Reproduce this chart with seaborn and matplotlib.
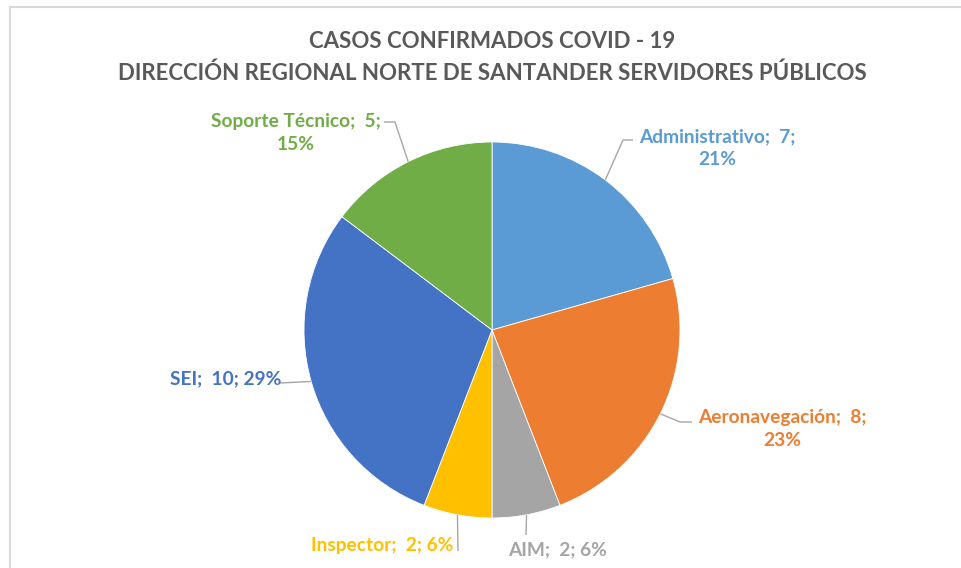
import numpy as np
import matplotlib
matplotlib.use("Agg")
import matplotlib.pyplot as plt
import seaborn as sns
from matplotlib.lines import Line2D

sns.set_theme(style="white")
plt.rcParams['font.family'] = ['Lato', 'DejaVu Sans']

# data
categories = ["Administrativo", "Aeronavegación", "AIM", "Inspector", "SEI", "Soporte Técnico"]
cases = [7, 8, 2, 2, 10, 5]
pct_labels = [21, 23, 6, 6, 29, 15]   # as shown on the chart
colors = ["#5B9BD5", "#ED7D31", "#A5A5A5", "#FFC000", "#4472C4", "#70AD47"]
title_lines = ["CASOS CONFIRMADOS COVID - 19",
               "DIRECCIÓN REGIONAL NORTE DE SANTANDER SERVIDORES PÚBLICOS"]

W, H = 962, 568
fig = plt.figure(figsize=(W / 100, H / 100), dpi=100)
ax = fig.add_axes([0, 0, 1, 1])

cx, cy, r = 492, H - 330, 188
wedges, _ = ax.pie(cases, colors=colors, startangle=90, counterclock=False,
                   center=(cx, cy), radius=r, frame=True,
                   wedgeprops=dict(edgecolor='white', linewidth=0.6))
ax.set_xlim(0, W)
ax.set_ylim(0, H)
ax.axis('off')

# label layout: text centre (pixels from top), two lines or not, leader elbow points
layout = {
    "Administrativo": dict(xy=(717, 148), two=True, path=[(623, 140), (633, 140)]),
    "Aeronavegación": dict(xy=(782, 429), two=True, path=[(680, 422), (692, 422)]),
    "AIM": dict(xy=(558, 550), two=False, path=[(526, 535)]),
    "Inspector": dict(xy=(382, 545), two=False, path=[(458, 551)]),
    "SEI": dict(xy=(226, 379), two=False, path=[(280, 383)]),
    "Soporte Técnico": dict(xy=(296, 133), two=True, path=[(395, 122), (384, 122)]),
}

for w, cat, n, p, col in zip(wedges, categories, cases, pct_labels, colors):
    lay = layout[cat]
    if lay["two"]:
        txt = f"{cat};  {n};\n{p}%"
    else:
        txt = f"{cat};  {n}; {p}%"
    tx, ty = lay["xy"]
    ax.text(tx, H - ty, txt, ha='center', va='center', color=col,
            fontsize=13.8, fontweight='bold', linespacing=1.4)
    ang = np.deg2rad((w.theta1 + w.theta2) / 2)
    ex, ey = cx + r * np.cos(ang), cy + r * np.sin(ang)
    xs = [ex] + [q[0] for q in lay["path"]]
    ys = [ey] + [H - q[1] for q in lay["path"]]
    ax.plot(xs, ys, color="#A6A6A6", lw=1, solid_capstyle='butt')

fig.text(492 / W, 1 - 42 / H, title_lines[0], ha='center', va='center',
         fontsize=16, fontweight='bold', color='#595959')
fig.text(492 / W, 1 - 73 / H, title_lines[1], ha='center', va='center',
         fontsize=16, fontweight='bold', color='#595959')

# chart area border (top and left visible)
fig.add_artist(Line2D([10 / W, 10 / W], [0, 1 - 7 / H], color='#D9D9D9', lw=1.5))
fig.add_artist(Line2D([10 / W, 1], [1 - 7 / H, 1 - 7 / H], color='#D9D9D9', lw=1.5))

fig.savefig("out.png", dpi=100, facecolor='white')
